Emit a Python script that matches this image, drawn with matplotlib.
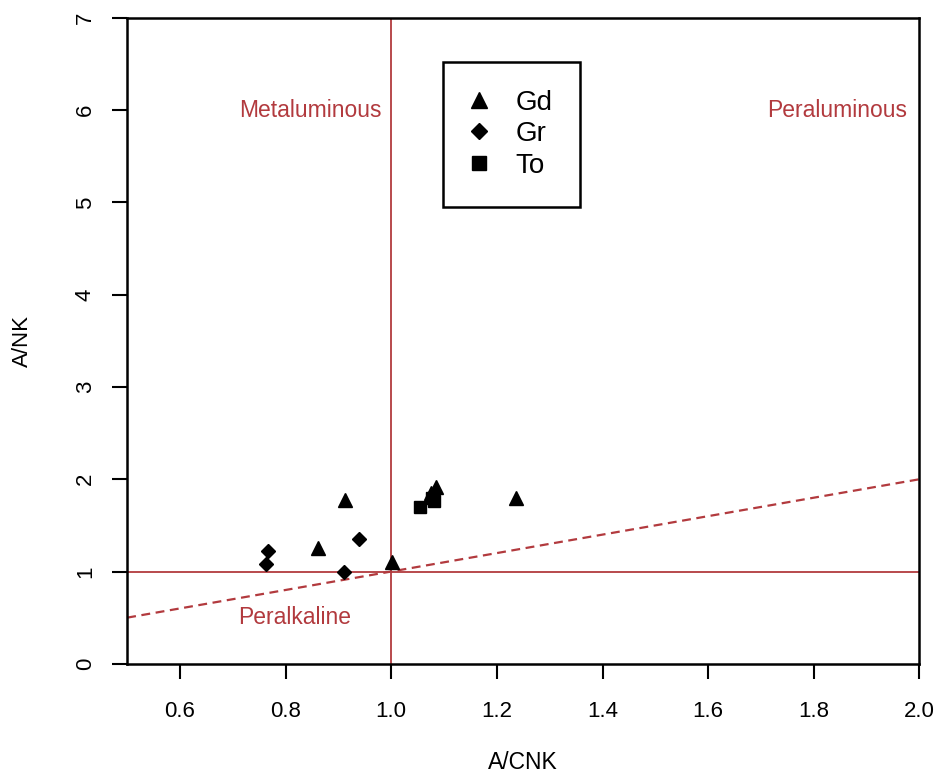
import numpy as np
import matplotlib.pyplot as plt

plt.rcParams['font.family'] = ['Liberation Sans', 'DejaVu Sans']

# sample values
gd_acnk = [0.912, 0.861, 1.002, 1.085, 1.075, 1.237]
gd_ank = [1.77, 1.25, 1.10, 1.92, 1.85, 1.80]
gr_acnk = [0.766, 0.762, 0.910, 0.939]
gr_ank = [1.22, 1.08, 0.99, 1.35]
to_acnk = [1.054, 1.081, 1.078]
to_ank = [1.70, 1.76, 1.80]

x_ticks = [0.6, 0.8, 1.0, 1.2, 1.4, 1.6, 1.8, 2.0]
y_ticks = [0, 1, 2, 3, 4, 5, 6, 7]
line_x = [0.5, 2.0]

red = '#b23a3e'

fig = plt.figure(figsize=(9.42, 7.8), dpi=100)
ax = fig.add_axes([0.135, 0.149, 0.841, 0.828])

ax.axvline(1.0, color=red, lw=1.3, zorder=1)
ax.axhline(1.0, color=red, lw=1.3, zorder=1)
ax.plot(line_x, line_x, color=red, lw=1.6, ls=(0, (4, 2.5)), zorder=1)

ax.plot(gd_acnk, gd_ank, '^', color='black', ms=10, label='Gd', zorder=3)
ax.plot(gr_acnk, gr_ank, 'D', color='black', ms=7, label='Gr', zorder=3)
ax.plot(to_acnk, to_ank, 's', color='black', ms=8.5, label='To', zorder=3)

ax.text(0.847, 6.0, 'Metaluminous', color=red, fontsize=16.5, ha='center', va='center')
ax.text(1.845, 6.0, 'Peraluminous', color=red, fontsize=16.5, ha='center', va='center')
ax.text(0.818, 0.5, 'Peralkaline', color=red, fontsize=16.5, ha='center', va='center')

ax.set_xlim(0.5, 2.0)
ax.set_ylim(0, 7)
ax.set_xticks(x_ticks)
ax.set_xticklabels([f'{v:.1f}' for v in x_ticks])
ax.set_yticks(y_ticks)
ax.set_yticklabels([str(v) for v in y_ticks], rotation=90, va='center')
ax.tick_params(direction='out', length=10.5, width=1.5, labelsize=16)
ax.tick_params(axis='x', pad=16)
ax.tick_params(axis='y', pad=12)

for s in ax.spines.values():
    s.set_linewidth(1.8)

ax.set_xlabel('A/CNK', fontsize=16.5, labelpad=21)
ax.set_ylabel('A/NK', fontsize=16, labelpad=30)

leg = ax.legend(loc='upper left', bbox_to_anchor=(0.399, 0.932), borderaxespad=0,
                fontsize=20, frameon=True, fancybox=False, edgecolor='black',
                framealpha=1, handlelength=0.6, handletextpad=1.0, borderpad=1.0,
                labelspacing=0.2, markerscale=1.2)
leg.get_frame().set_linewidth(1.8)

fig.savefig('out.png')
